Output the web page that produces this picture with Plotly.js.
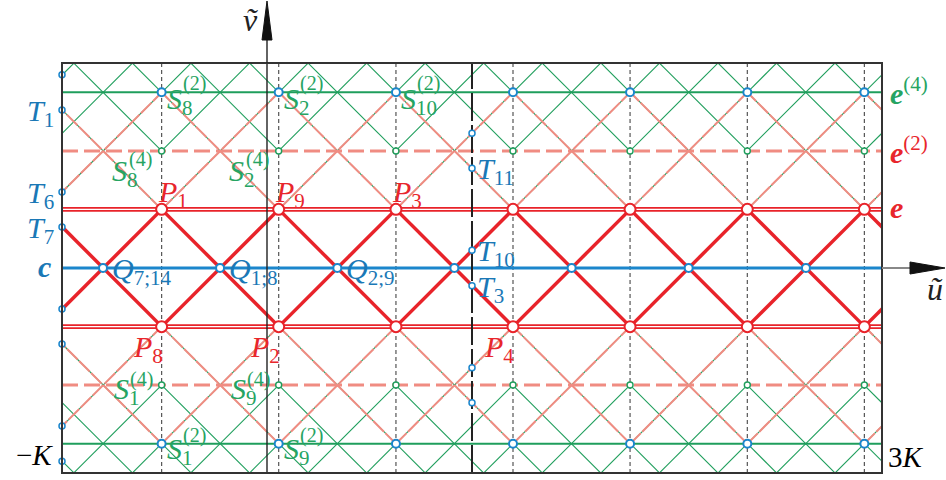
<!DOCTYPE html>
<html><head><meta charset="utf-8">
<script src="https://cdn.plot.ly/plotly-3.0.1.min.js"></script>
<style>html,body{margin:0;padding:0;background:#fff;} #chart{width:946px;height:480px;}</style>
</head><body><div id="chart"></div>
<script>
// ---------- data (all values in units of K) ----------
const uRange = [-1, 3];                 // -K .. 3K
const vRange = [-1, 1];                 // -K .. K
const uP = [-0.514, 0.057, 0.629, 1.200, 1.771, 2.343, 2.914];   // abscissas of P, S points (dotted verticals)
const qU = [-0.800, -0.229, 0.343, 0.914, 1.486, 2.057, 2.629];  // abscissas of Q points on c
const vE = 0.286, vE2 = 0.571, vE4 = 0.857;                       // levels e, e(2), e(4)
const tLeftV = [0.943, 0.771, 0.371, 0.200, -0.200, -0.371, -0.771, -0.943]; // points on u = -K
const uKline = 1.0;                                               // u = K
const tKV = [0.657, 0.486, 0.086, -0.086, -0.486, -0.657];        // points on u = K
const pTopIdx = [0, 1, 2], pTopNames = ['1', '9', '3'];
const pBotIdx = [0, 1, 3], pBotNames = ['8', '2', '4'];
const qIdx = [0, 1, 2], qNames = ['7;14', '1;8', '2;9'];
const s2TopIdx = [0, 1, 2], s2TopNames = ['8', '2', '10'];
const s4TopIdx = [0, 1], s4TopNames = ['8', '2'];
const s4BotIdx = [0, 1], s4BotNames = ['1', '9'];
const s2BotIdx = [0, 1], s2BotNames = ['1', '9'];
const tLeftNames = [[1, '1'], [2, '6'], [3, '7']];
const tKNames = [[1, '11'], [2, '10'], [3, '3']];

// ---------- colours ----------
const RED = '#e8232a', SALMON = '#f08c82', GREEN = '#1f9e5c', BLUE = '#1b86cc';
const LBLUE = '#1a78b6', LGREEN = '#26a462', LRED = '#e8262c';
const FONT = 'Liberation Serif';
const FS = 30, FSUP = 20;

// ---------- geometry helpers ----------
const step = uP[1] - uP[0];
const ext = [uP[0] - 3 * step, uP[0] - 2 * step, uP[0] - step].concat(uP, [uP[6] + step, uP[6] + 2 * step, uP[6] + 3 * step]);
function mk() { return { x: [], y: [] }; }
function seg(o, c, s, a, b) { o.x.push(c + s * a, c + s * b, null); o.y.push(a, b, null); }
const redS = mk(), salS = mk(), grnS = mk();
const TOP = 1.5;
ext.forEach(p => {
  const c = p + vE;
  [1, -1].forEach(s => {
    seg(redS, c, s, -vE, vE);
    seg(salS, c, s, vE, vE4); seg(salS, c, s, -vE4, -vE);
    seg(grnS, c, s, vE4, TOP); seg(grnS, c, s, -TOP, -vE4);
  });
  const d = p + vE2;
  [1, -1].forEach(s => {
    seg(grnS, d, s, vE2, TOP); seg(grnS, d, s, -TOP, -vE2);
  });
});
function hline(v) { return { x: [uRange[0], uRange[1]], y: [v, v] }; }
function vlines(us) { const o = mk(); us.forEach(u => { o.x.push(u, u, null); o.y.push(vRange[0], vRange[1], null); }); return o; }

const traces = [];
function L(o, line, extra) { traces.push(Object.assign({ type: 'scatter', mode: 'lines', x: o.x, y: o.y, line: line, hoverinfo: 'skip' }, extra || {})); }

// dotted verticals
L(vlines(uP), { color: '#555', width: 1.2, dash: '4px,3px' });
// green thin diagonals
L(grnS, { color: GREEN, width: 1.1 });
// salmon diagonals (green underneath shows through tiny gaps)
L(salS, { color: GREEN, width: 1.1 });
L(salS, { color: SALMON, width: 2, dash: '15px,2px' });
// horizontal levels
[vE4, -vE4].forEach(v => L(hline(v), { color: GREEN, width: 2 }));
[vE2, -vE2].forEach(v => L(hline(v), { color: SALMON, width: 3, dash: '16px,6px' }));
[vE, -vE].forEach(v => { L(hline(v), { color: RED, width: 4.6 }); L(hline(v), { color: '#fff', width: 1.3 }); });
// c line
L(hline(0), { color: BLUE, width: 3 });
// thick red
L(redS, { color: RED, width: 3.5 });
// u = K long dashed, u = 0 axis
L(vlines([uKline]), { color: '#222', width: 2, dash: '28px,4px' });
L(vlines([0]), { color: '#222', width: 1.4 });

function M(xs, ys, size, col, w) {
  traces.push({ type: 'scatter', mode: 'markers', x: xs, y: ys, cliponaxis: false, hoverinfo: 'skip',
    marker: { symbol: 'circle', size: size, color: '#fff', line: { color: col, width: w } } });
}
M(uP, uP.map(() => vE4), 8, BLUE, 2);
M(uP, uP.map(() => -vE4), 8, BLUE, 2);
M(uP, uP.map(() => vE2), 6, GREEN, 1.4);
M(uP, uP.map(() => -vE2), 6, GREEN, 1.4);
M(qU, qU.map(() => 0), 8, BLUE, 2);
M(tLeftV.map(() => uRange[0]), tLeftV, 6, BLUE, 1.5);
M(tKV.map(() => uKline), tKV, 6, BLUE, 1.5);
M(uP, uP.map(() => vE), 11, RED, 2);
M(uP, uP.map(() => -vE), 11, RED, 2);

// ---------- annotations ----------
const anns = [];
function font(c, s) { return { family: FONT, size: s || FS, color: c }; }
function A(x, y, text, o) {
  anns.push(Object.assign({ x: x, y: y, xref: 'x', yref: 'y', text: text, showarrow: false, font: font('#000') }, o));
}
const W = 946 - 62 - 64, H = 410;
function px(u) { return (u - uRange[0]) / (uRange[1] - uRange[0]); }
function py(v) { return (v - vRange[0]) / (vRange[1] - vRange[0]); }
function AP(xp, yp, text, o) {
  anns.push(Object.assign({ x: xp, y: yp, xref: 'paper', yref: 'paper', text: text, showarrow: false, font: font('#000') }, o));
}

pTopIdx.forEach((k, i) => A(uP[k], vE, '<i>P</i><sub>' + pTopNames[i] + '</sub>',
  { xanchor: 'left', yanchor: 'bottom', xshift: -6, yshift: -6, font: font(LRED) }));
pBotIdx.forEach((k, i) => A(uP[k], -vE, '<i>P</i><sub>' + pBotNames[i] + '</sub>',
  { xanchor: 'right', yanchor: 'top', xshift: 3, yshift: -1, font: font(LRED) }));
qIdx.forEach((k, i) => A(qU[k], 0, '<i>Q</i><sub>' + qNames[i] + '</sub>',
  { xanchor: 'left', yanchor: 'middle', xshift: 7, yshift: -3, font: font(LBLUE) }));
function Slab(u, v, sub, sup, sx, sy, ux, uy) {
  A(u, v, '<i>S</i><sub>' + sub + '</sub>', { xanchor: 'left', yanchor: 'middle', xshift: sx, yshift: sy, font: font(LGREEN) });
  A(u, v, sup, { xanchor: 'left', yanchor: 'middle', xshift: ux, yshift: uy, font: font(LGREEN, FSUP) });
}
s2TopIdx.forEach((k, i) => Slab(uP[k], vE4, s2TopNames[i], '(2)', 3, -9, 19, 9));
s2BotIdx.forEach((k, i) => Slab(uP[k], -vE4, s2BotNames[i], '(2)', 3, -7, 19, 8));
s4TopIdx.forEach((k, i) => Slab(uP[k], vE2, s4TopNames[i], '(4)', -52, -22, -35, -9));
s4BotIdx.forEach((k, i) => Slab(uP[k], -vE2, s4BotNames[i], '(4)', -50, -6, -34, 6));
tLeftNames.forEach(([k, n]) => A(uRange[0], tLeftV[k], '<i>T</i><sub>' + n + '</sub>',
  { xanchor: 'right', yanchor: 'middle', xshift: -6, yshift: -3, font: font(LBLUE) }));
tKNames.forEach(([k, n]) => A(uKline, tKV[k], '<i>T</i><sub>' + n + '</sub>',
  { xanchor: 'left', yanchor: 'middle', xshift: 3, yshift: -3, font: font(LBLUE) }));

// outside labels (paper)
AP(px(uRange[0]), py(0), '<b><i>c</i></b>', { xanchor: 'right', yanchor: 'middle', xshift: -9, yshift: 2, font: font(LBLUE, 30) });
AP(px(uRange[0]), py(vRange[0]), '−<i>K</i>', { xanchor: 'right', yanchor: 'bottom', xshift: -7, yshift: 0, font: font('#000', 29) });
AP(px(uRange[1]), py(vRange[0]), '3<i>K</i>', { xanchor: 'left', yanchor: 'bottom', xshift: 4, yshift: -2, font: font('#000', 29) });
AP(px(uRange[1]), py(vE4), '<b><i>e</i></b><sup>(4)</sup>', { xanchor: 'left', yanchor: 'middle', xshift: 6, yshift: 1, font: font(LGREEN, 30) });
AP(px(uRange[1]), py(vE2), '<b><i>e</i></b><sup>(2)</sup>', { xanchor: 'left', yanchor: 'middle', xshift: 6, yshift: 1, font: font(LRED, 30) });
AP(px(uRange[1]), py(vE), '<b><i>e</i></b>', { xanchor: 'left', yanchor: 'middle', xshift: 6, yshift: 2, font: font(LRED, 30) });
AP(px(0), 1 + 63 / H, '<i>ṽ</i>', { xanchor: 'right', yanchor: 'middle', xshift: -7, yshift: -20, font: font('#222', 32) });
AP(1, py(0), '<i>ũ</i>', { xanchor: 'center', yanchor: 'middle', xshift: 53, yshift: -21, font: font('#222', 32) });

// ---------- shapes: frame and axis arrows ----------
const shapes = [];
shapes.push({ type: 'rect', xref: 'paper', yref: 'paper', x0: 0, x1: 1, y0: 0, y1: 1, line: { color: '#333', width: 2 }, layer: 'above' });
const ax0 = px(0), ay0 = py(0);
// v axis
shapes.push({ type: 'line', xref: 'paper', yref: 'paper', x0: ax0, x1: ax0, y0: 1, y1: 1 + 25 / H, line: { color: '#222', width: 1.4 } });
shapes.push({ type: 'path', xref: 'paper', yref: 'paper', fillcolor: '#111', line: { color: '#111', width: 1 },
  path: `M ${ax0 - 5 / W} ${1 + 23 / H} L ${ax0 + 5 / W} ${1 + 23 / H} L ${ax0} ${1 + 62 / H} Z` });
// u axis
shapes.push({ type: 'line', xref: 'paper', yref: 'paper', x0: 1, x1: 1 + 30 / W, y0: ay0, y1: ay0, line: { color: '#888', width: 2 } });
shapes.push({ type: 'path', xref: 'paper', yref: 'paper', fillcolor: '#111', line: { color: '#111', width: 1 },
  path: `M ${1 + 28 / W} ${ay0 - 6 / H} L ${1 + 28 / W} ${ay0 + 6 / H} L ${1 + 63 / W} ${ay0} Z` });

const layout = {
  width: 946, height: 480,
  margin: { l: 62, r: 64, t: 63, b: 7, pad: 0 },
  paper_bgcolor: '#fff', plot_bgcolor: '#fff',
  showlegend: false,
  xaxis: { range: uRange, visible: false, showgrid: false, zeroline: false, fixedrange: true },
  yaxis: { range: vRange, visible: false, showgrid: false, zeroline: false, fixedrange: true },
  annotations: anns, shapes: shapes,
  font: { family: FONT }
};
Plotly.newPlot('chart', traces, layout, { staticPlot: true, displayModeBar: false });
</script></body></html>
